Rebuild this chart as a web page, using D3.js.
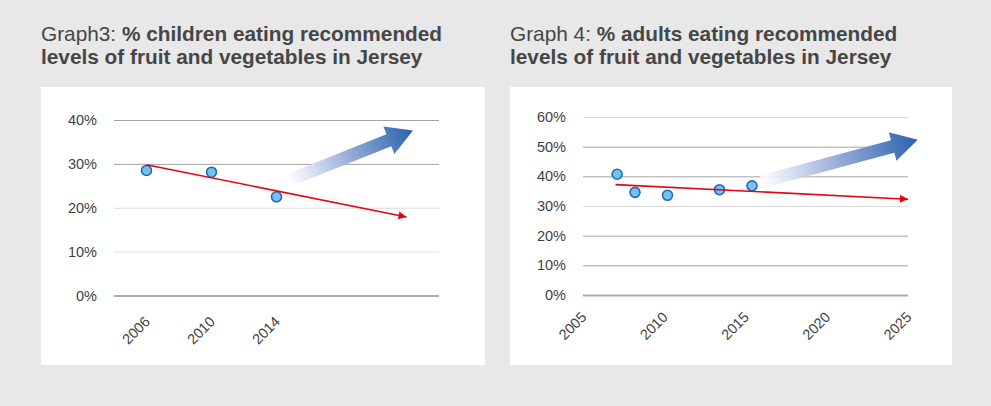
<!DOCTYPE html>
<html><head><meta charset="utf-8">
<script src="https://cdn.jsdelivr.net/npm/d3@7"></script>
<style>
html,body{margin:0;padding:0;background:#e8e8e8;}
svg{display:block;font-family:"Liberation Sans",Arial,Helvetica,sans-serif;}
</style></head>
<body>
<svg id="c" width="991" height="406"></svg>
<script>
// ---- data ----
const childCategories = ["2006", "2010", "2014", "", ""];
const childValues = [28.5, 28.1, 22.5];
const childTrend = [{x: 0, v: 29.8}, {x: 4, v: 17.9}];
const childAspiration = [{x: 2.18, v: 26.2}, {x: 4.1, v: 37.6}];
const childYTicks = [0, 10, 20, 30, 40];

const adultYears = [2007.1, 2008.2, 2010.2, 2013.4, 2015.4];
const adultValues = [40.7, 34.6, 33.6, 35.5, 36.8];
const adultTrend = [{x: 2007.0, v: 37.2}, {x: 2025.0, v: 32.3}];
const adultAspiration = [{x: 2016.0, v: 38.2}, {x: 2025.6, v: 52.3}];
const adultXTicks = [2005, 2010, 2015, 2020, 2025];
const adultYTicks = [0, 10, 20, 30, 40, 50, 60];

const titles = [
  {plain: "Graph3: ", bold: ["% children eating recommended", "levels of fruit and vegetables in Jersey"]},
  {plain: "Graph 4: ", bold: ["% adults eating recommended", "levels of fruit and vegetables in Jersey"]}
];

// ---- drawing ----
const svg = d3.select("#c");
const defs = svg.append("defs");
defs.append("marker").attr("id", "redHead").attr("viewBox", "0 0 10 10")
  .attr("refX", 10).attr("refY", 5).attr("markerUnits", "userSpaceOnUse")
  .attr("markerWidth", 10).attr("markerHeight", 8).attr("orient", "auto")
  .append("path").attr("d", "M0,0L10,5L0,10Z").attr("fill", "#e30613");

const darkGrid = "#a3a3a3", lightGrid = "#dedede";
const labelFont = "'Liberation Sans',Arial,sans-serif";

function drawTitle(t, x) {
  const tx = svg.append("text").attr("x", x).attr("y", 41)
    .attr("font-size", 20.8).attr("fill", "#464646");
  tx.append("tspan").text(t.plain);
  tx.append("tspan").attr("font-weight", "bold").text(t.bold[0]);
  svg.append("text").attr("x", x).attr("y", 63.5).attr("font-size", 20.8)
    .attr("font-weight", "bold").attr("fill", "#464646").text(t.bold[1]);
}

function drawPanel(cfg) {
  const g = svg.append("g");
  g.append("rect").attr("x", cfg.panel[0]).attr("y", cfg.panel[1])
    .attr("width", cfg.panel[2]).attr("height", cfg.panel[3]).attr("fill", "#fff");
  const x = cfg.x, y = cfg.y;
  const [x0, x1] = x.range();
  // grid + y labels
  const yAxis = d3.axisLeft(y).tickValues(cfg.yTicks).tickSize(-(x1 - x0))
    .tickPadding(17).tickFormat(d => d + "%");
  const ya = g.append("g").attr("transform", `translate(${x0},0)`).call(yAxis);
  ya.select(".domain").remove();
  ya.selectAll("line").attr("stroke", d => d === 0 ? "#ababab" : (cfg.gridStyle(d) ? darkGrid : lightGrid))
    .attr("stroke-width", d => d === 0 ? 2 : 1);
  ya.selectAll("text").attr("font-size", 14.5).attr("fill", "#3f3f3f")
    .attr("font-family", labelFont);
  // x labels
  const xAxis = d3.axisBottom(x).tickValues(cfg.xTicks).tickSize(0).tickFormat(cfg.xFormat);
  const xa = g.append("g").attr("transform", `translate(0,${y(0)})`).call(xAxis);
  xa.select(".domain").remove();
  xa.selectAll("text").attr("font-size", 14.5).attr("fill", "#3f3f3f")
    .attr("font-family", labelFont)
    .attr("text-anchor", "end").attr("dy", 0).attr("y", 0)
    .attr("transform", `translate(${cfg.labelDx},${cfg.labelDy}) rotate(-45)`);
  // aspiration arrow (gradient)
  const a0 = [x(cfg.aspiration[0].x), y(cfg.aspiration[0].v)];
  const a1 = [x(cfg.aspiration[1].x), y(cfg.aspiration[1].v)];
  const gid = "grad" + cfg.id;
  const grad = defs.append("linearGradient").attr("id", gid).attr("gradientUnits", "userSpaceOnUse")
    .attr("x1", a0[0]).attr("y1", a0[1]).attr("x2", a1[0]).attr("y2", a1[1]);
  grad.append("stop").attr("offset", 0).attr("stop-color", "#ffffff").attr("stop-opacity", 0.9);
  grad.append("stop").attr("offset", 0.45).attr("stop-color", "#9fb2dc");
  grad.append("stop").attr("offset", 1).attr("stop-color", "#2962ae");
  const dx = a1[0] - a0[0], dy = a1[1] - a0[1], L = Math.hypot(dx, dy);
  const ux = dx / L, uy = dy / L, px = -uy, py = ux;
  const sw = 6.5, hw = 14.8, hl = 26;
  const bx = a1[0] - ux * hl, by = a1[1] - uy * hl;
  const pts = [
    [a0[0] + px * sw, a0[1] + py * sw],
    [bx + px * sw, by + py * sw],
    [bx + px * hw, by + py * hw],
    a1,
    [bx - px * hw, by - py * hw],
    [bx - px * sw, by - py * sw],
    [a0[0] - px * sw, a0[1] - py * sw]
  ];
  g.append("path").attr("d", "M" + pts.map(p => p.join(",")).join("L") + "Z").attr("fill", `url(#${gid})`);
  // points
  g.selectAll("circle.pt").data(cfg.points).join("circle").attr("class", "pt")
    .attr("cx", d => x(d.x)).attr("cy", d => y(d.v)).attr("r", 5)
    .attr("fill", "#72c2ef").attr("stroke", "#2468b8").attr("stroke-width", 1.6);
  // trend
  g.append("line").attr("x1", x(cfg.trend[0].x)).attr("y1", y(cfg.trend[0].v))
    .attr("x2", x(cfg.trend[1].x)).attr("y2", y(cfg.trend[1].v))
    .attr("stroke", "#e30613").attr("stroke-width", 1.6).attr("marker-end", "url(#redHead)");
}

drawTitle(titles[0], 41);
drawTitle(titles[1], 510);

drawPanel({
  id: 1,
  panel: [41, 87, 444, 278],
  x: d3.scaleLinear().domain([-0.5, 4.5]).range([114, 439]),
  y: d3.scaleLinear().domain([0, 40]).range([295.5, 120]),
  yTicks: childYTicks,
  xTicks: d3.range(childCategories.length),
  xFormat: i => childCategories[i],
  gridStyle: d => d >= 30,
  labelDx: 4, labelDy: 27,
  points: childValues.map((v, i) => ({x: i, v})),
  trend: childTrend,
  aspiration: childAspiration
});

drawPanel({
  id: 2,
  panel: [510, 87, 442, 278],
  x: d3.scaleLinear().domain([2005, 2025]).range([583, 908]),
  y: d3.scaleLinear().domain([0, 60]).range([295, 117]),
  yTicks: adultYTicks,
  xTicks: adultXTicks,
  xFormat: d => String(d),
  gridStyle: d => !(d === 60 || d === 30),
  labelDx: 4, labelDy: 23,
  points: adultYears.map((yr, i) => ({x: yr, v: adultValues[i]})),
  trend: adultTrend,
  aspiration: adultAspiration
});
</script>
</body></html>
